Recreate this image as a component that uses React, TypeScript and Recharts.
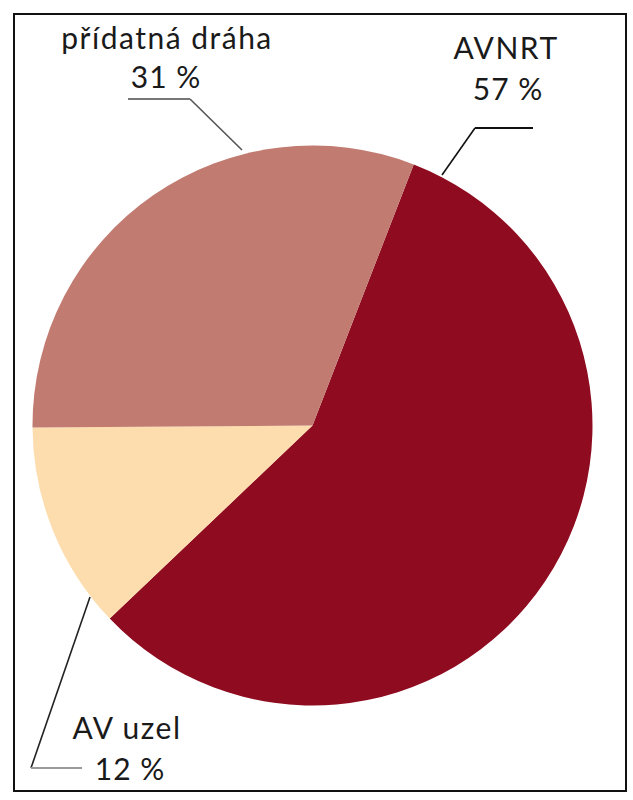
import React from 'react';
import { PieChart, Pie, Cell } from 'recharts';

const categories = ['AVNRT', 'AV uzel', 'přídatná dráha'];
const values = [57, 12, 31];
const colors = ['#8E0B20', '#FDDDAD', '#C17B70'];

const data = categories.map((name, i) => ({ name, value: values[i] }));

// label layout, offsets relative to pie centre
const labelLayout = [
  {
    line: [[129.5, -250.5], [162.5, -297.5], [220.5, -297.5]],
    lineColor: ['#111', '#111'],
    name: [193.5, -366.5],
    pct: [195.5, -325.5],
  },
  {
    line: [[-222.5, 171.5], [-281.5, 342.5], [-230.5, 342.5]],
    lineColor: ['#222', '#9a9a9a'],
    name: [-185.5, 313.5],
    pct: [-182.5, 354.5],
  },
  {
    line: [[-70.5, -275.5], [-122.5, -326.5], [-184.5, -326.5]],
    lineColor: ['#555', '#777'],
    name: [-145.5, -376.5],
    pct: [-146.5, -337.5],
  },
];

const FONT = 'Lato, "Open Sans", sans-serif';

const renderLabel = (props: any) => {
  const { cx, cy, index, name, value } = props;
  const l = labelLayout[index];
  if (!l) return null;
  const p = l.line.map(([dx, dy]) => [cx + dx, cy + dy]);
  return (
    <g key={`lbl-${index}`}>
      <line x1={p[0][0]} y1={p[0][1]} x2={p[1][0]} y2={p[1][1]} stroke={l.lineColor[0]} strokeWidth={1.6} />
      <line x1={p[1][0]} y1={p[1][1]} x2={p[2][0]} y2={p[2][1]} stroke={l.lineColor[1]} strokeWidth={2} />
      <text x={cx + l.name[0]} y={cy + l.name[1]} textAnchor="middle" fill="#1a1a1a" fontSize={30} fontFamily={FONT} letterSpacing={1.5}>
        {name}
      </text>
      <text x={cx + l.pct[0]} y={cy + l.pct[1]} textAnchor="middle" fill="#1a1a1a" fontSize={30} fontFamily={FONT} letterSpacing={1}>
        {`${value} %`}
      </text>
    </g>
  );
};

export default function App() {
  return (
    <div style={{ position: 'absolute', left: 0, top: 0, width: 633, height: 800, background: '#fff' }}>
      <div
        style={{
          position: 'absolute',
          left: 13,
          top: 13,
          width: 610,
          height: 775,
          border: '2.5px solid #111',
        }}
      />
      <div style={{ position: 'absolute', left: 0, top: 0 }}>
        <PieChart width={633} height={800} margin={{ top: 0, right: 0, bottom: 0, left: 0 }}>
          <Pie
            data={data}
            dataKey="value"
            nameKey="name"
            cx={312.5}
            cy={425.5}
            outerRadius={280}
            startAngle={68.8}
            endAngle={-291.2}
            stroke="none"
            label={renderLabel}
            labelLine={false}
            isAnimationActive={false}
          >
            {data.map((d, i) => (
              <Cell key={d.name} fill={colors[i]} />
            ))}
          </Pie>
        </PieChart>
      </div>
    </div>
  );
}
